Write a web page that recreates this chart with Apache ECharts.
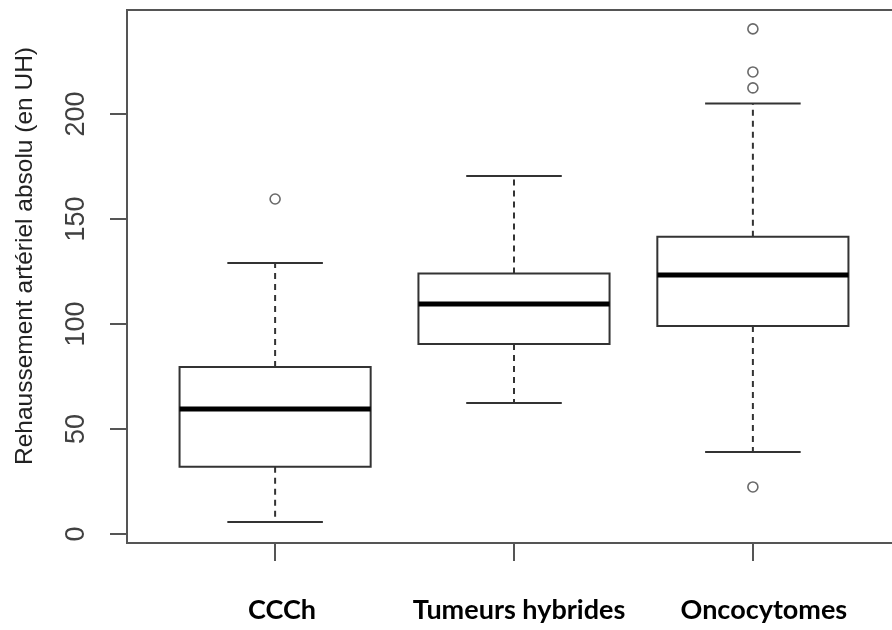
<!DOCTYPE html>
<html>
<head>
<meta charset="utf-8">
<script src="https://cdn.jsdelivr.net/npm/echarts@6/dist/echarts.min.js"></script>
<style>html,body{margin:0;padding:0;background:#fff}#c{width:892px;height:630px}</style>
</head>
<body>
<div id="c"></div>
<script>
var categories = ['CCCh', 'Tumeurs hybrides', 'Oncocytomes'];
// [lower whisker, Q1, median, Q3, upper whisker]
var boxCCCh = [5.7, 32, 59.5, 79.5, 129];
var boxHybrides = [62.4, 90.5, 109.5, 124, 170.5];
var boxOncocytomes = [39, 99, 123.3, 141.5, 205];
// outliers: [group position, value]
var outliers = [[1, 159.5], [3, 240.5], [3, 220], [3, 212.4], [3, 22.4]];
var yTicks = [0, 50, 100, 150, 200];
var yTitle = 'Rehaussement artériel absolu (en UH)';

var boxes = [boxCCCh, boxHybrides, boxOncocytomes];
var boxData = boxes.map(function (b, i) { return [i + 1].concat(b); });

var chart = echarts.init(document.getElementById('c'), null, {renderer: 'canvas'});
var lineCol = '#333';
var labFont = {fontFamily: 'Lato', fontWeight: 'bold', fontSize: 27, color: '#000'};
chart.setOption({
  animation: false,
  backgroundColor: '#fff',
  grid: {left: 127, top: 10, width: 774, height: 533, outerBoundsMode: 'none', containLabel: false, show: true, borderColor: '#555', borderWidth: 2, backgroundColor: 'transparent'},
  xAxis: {
    type: 'value', min: 0.38, max: 3.62,
    splitLine: {show: false},
    axisLine: {show: true, onZero: false, lineStyle: {color: '#555', width: 2}},
    axisTick: {show: true, customValues: [1, 2, 3], inside: false, length: 18, lineStyle: {color: '#555', width: 2}},
    axisLabel: {
      customValues: [1, 2, 3], margin: 54,
      formatter: function (v) { var i = Math.round(v) - 1; return categories[i] ? '{c' + i + '|' + categories[i] + '}' : ''; },
      fontFamily: 'Lato', fontWeight: 'bold', fontSize: 27, color: '#000',
      rich: {
        c0: Object.assign({padding: [0, 0, 0, 14]}, labFont),
        c1: Object.assign({padding: [0, 0, 0, 10]}, labFont),
        c2: Object.assign({padding: [0, 0, 0, 22]}, labFont)
      }
    }
  },
  yAxis: {
    type: 'value', min: -4.3, max: 249.5,
    splitLine: {show: false},
    axisLine: {show: true, onZero: false, lineStyle: {color: '#555', width: 2}},
    axisTick: {show: true, customValues: yTicks, length: 17, lineStyle: {color: '#555', width: 2}},
    axisLabel: {customValues: yTicks, rotate: 90, margin: 37, fontFamily: 'Liberation Sans', fontSize: 27, color: '#404040'}
  },
  graphic: [{
    type: 'text', x: 25, y: 256, rotation: Math.PI / 2,
    style: {text: yTitle, fontFamily: 'Liberation Sans', fontSize: 24.5, fill: '#222', align: 'center', verticalAlign: 'middle'}
  }],
  series: [{
    type: 'custom',
    data: boxData,
    renderItem: function (params, api) {
      var x = api.value(0);
      var lo = api.value(1), q1 = api.value(2), med = api.value(3), q3 = api.value(4), hi = api.value(5);
      var pL = api.coord([x - 0.4, q3]), pR = api.coord([x + 0.4, q1]);
      var cL = api.coord([x - 0.2, hi])[0], cR = api.coord([x + 0.2, hi])[0];
      var cx = api.coord([x, 0])[0];
      var yLo = api.coord([x, lo])[1], yQ1 = api.coord([x, q1])[1], yMed = api.coord([x, med])[1], yQ3 = api.coord([x, q3])[1], yHi = api.coord([x, hi])[1];
      var solid = {stroke: lineCol, lineWidth: 2, fill: null};
      var dashed = {stroke: lineCol, lineWidth: 2, lineDash: [6, 5], fill: null};
      return {
        type: 'group',
        children: [
          {type: 'line', shape: {x1: cx, y1: yQ3, x2: cx, y2: yHi}, style: dashed},
          {type: 'line', shape: {x1: cx, y1: yQ1, x2: cx, y2: yLo}, style: dashed},
          {type: 'line', shape: {x1: cL, y1: yHi, x2: cR, y2: yHi}, style: solid},
          {type: 'line', shape: {x1: cL, y1: yLo, x2: cR, y2: yLo}, style: solid},
          {type: 'rect', shape: {x: pL[0], y: yQ3, width: pR[0] - pL[0], height: yQ1 - yQ3}, style: {stroke: lineCol, lineWidth: 2, fill: '#fff'}},
          {type: 'line', shape: {x1: pL[0], y1: yMed, x2: pR[0], y2: yMed}, style: {stroke: '#000', lineWidth: 5}}
        ]
      };
    }
  }, {
    type: 'scatter',
    data: outliers,
    symbol: 'circle', symbolSize: 10,
    itemStyle: {color: '#fff', borderColor: '#444', borderWidth: 1.6}
  }]
});
</script>
</body>
</html>
